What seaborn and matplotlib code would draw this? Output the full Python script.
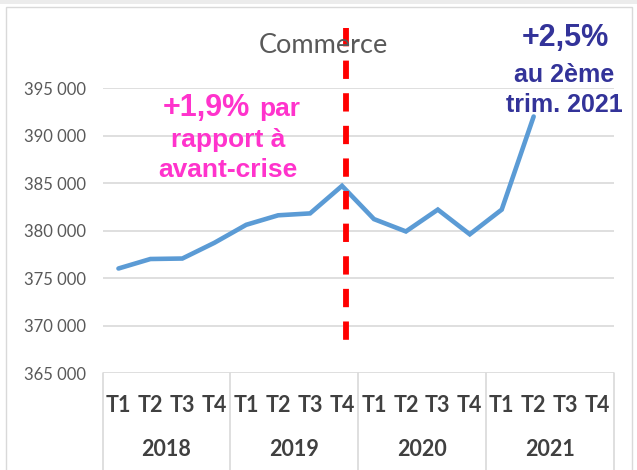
import numpy as np
import pandas as pd
import matplotlib
matplotlib.use("Agg")
import matplotlib.pyplot as plt
import matplotlib.transforms as mtransforms
from matplotlib.patches import Rectangle
import seaborn as sns

# ---- data ----
quarters = ["T1", "T2", "T3", "T4"]
years = ["2018", "2019", "2020", "2021"]
emplois = [376000, 377000, 377050, 378700,
           380600, 381600, 381800, 384700,
           381200, 379900, 382200, 379600,
           382200, 392000, np.nan, np.nan]
yticks = [365000, 370000, 375000, 380000, 385000, 390000, 395000]
title = "Commerce"
pink_big = "+1,9%"
pink_small = "par"
pink_lines = ["rapport à", "avant-crise"]
blue_big = "+2,5%"
blue_lines = ["au 2ème", "trim. 2021"]
crisis_x = 7.13
crisis_span = [401280, 368470]

# ---- style ----
sns.set_style("white")
plt.rcParams["font.family"] = ["Lato", "DejaVu Sans"]

W, H = 637, 470
fig = plt.figure(figsize=(W / 100, H / 100), dpi=100)

def fx(px):
    return px / W

def fy(py):
    return 1 - py / H

# outer frame
fig.patches.append(Rectangle((0, fy(4)), 1, 4 / H, transform=fig.transFigure,
                             facecolor="#ececec", edgecolor="none", zorder=-10))
fig.patches.append(Rectangle((fx(6), -0.01), fx(632) - fx(6), fy(7) + 0.01,
                             transform=fig.transFigure, facecolor="white",
                             edgecolor="#d9d9d9", lw=1.0, zorder=-10))

ax_l, ax_r, ax_t, ax_b = 102.5, 613.5, 88, 373
ax = fig.add_axes([fx(ax_l), fy(ax_b), fx(ax_r) - fx(ax_l), (ax_b - ax_t) / H])
ax.set_zorder(1)
ax.set_facecolor("none")

df = pd.DataFrame({"pos": np.arange(len(emplois)), "val": emplois})
sns.lineplot(data=df, x="pos", y="val", ax=ax, color="#5b9bd5", lw=3.3,
             solid_joinstyle="miter", zorder=3)

ax.set_xlim(-0.5, len(emplois) - 0.5)
ax.set_ylim(yticks[0], yticks[-1])
ax.set_yticks(yticks)
ax.set_yticklabels([f"{v:,.0f}".replace(",", " ") for v in yticks],
                   color="#595959", fontsize=12)
ax.set_xticks([])
ax.tick_params(axis="y", length=0, pad=12)
ax.set_xlabel("")
ax.set_ylabel("")
ax.yaxis.grid(True, color="#d9d9d9", lw=1.2, zorder=0)
for s in ax.spines.values():
    s.set_visible(False)

# category box
trans = mtransforms.blended_transform_factory(ax.transData, ax.transAxes)
box_bottom = -(H - ax_b) / (ax_b - ax_t)
for k in range(len(years) + 1):
    xs = -0.5 + 4 * k
    ax.plot([xs, xs], [0, box_bottom], transform=trans, color="#d9d9d9",
            lw=1.2, clip_on=False)
q_y = -(406 - ax_b) / (ax_b - ax_t)
y_y = -(450 - ax_b) / (ax_b - ax_t)
for i in range(len(emplois)):
    ax.text(i, q_y, quarters[i % 4], transform=trans, ha="center", va="center",
            fontsize=15.5, fontweight="bold", color="#404040")
for k, yr in enumerate(years):
    ax.text(1.5 + 4 * k, y_y, yr, transform=trans, ha="center", va="center",
            fontsize=15.5, fontweight="bold", color="#404040")

# crisis line
ax.plot([crisis_x, crisis_x], crisis_span, color="#ff0000", lw=4.2,
        ls=(0, (3.14, 2.45)), dash_capstyle="butt", clip_on=False, zorder=4)

# title
fig.text(fx(323), fy(53), title, ha="center", va="baseline", fontsize=19.5,
         color="#595959")

# annotations
afont = ["Liberation Sans", "DejaVu Sans"]
pink = "#ff33cc"
navy = "#333399"
fig.text(fx(250), fy(116), pink_big, ha="right", va="baseline", fontsize=22,
         fontweight="bold", color=pink, family=afont)
fig.text(fx(259), fy(116), pink_small, ha="left", va="baseline", fontsize=19,
         fontweight="bold", color=pink, family=afont)
for txt, by in zip(pink_lines, [147, 177]):
    fig.text(fx(228), fy(by), txt, ha="center", va="baseline", fontsize=19,
             fontweight="bold", color=pink, family=afont)
fig.text(fx(565), fy(46), blue_big, ha="center", va="baseline", fontsize=22,
         fontweight="bold", color=navy, family=afont)
for txt, by in zip(blue_lines, [82, 112]):
    fig.text(fx(564), fy(by), txt, ha="center", va="baseline", fontsize=18,
             fontweight="bold", color=navy, family=afont)

fig.savefig("out.png", dpi=100)
